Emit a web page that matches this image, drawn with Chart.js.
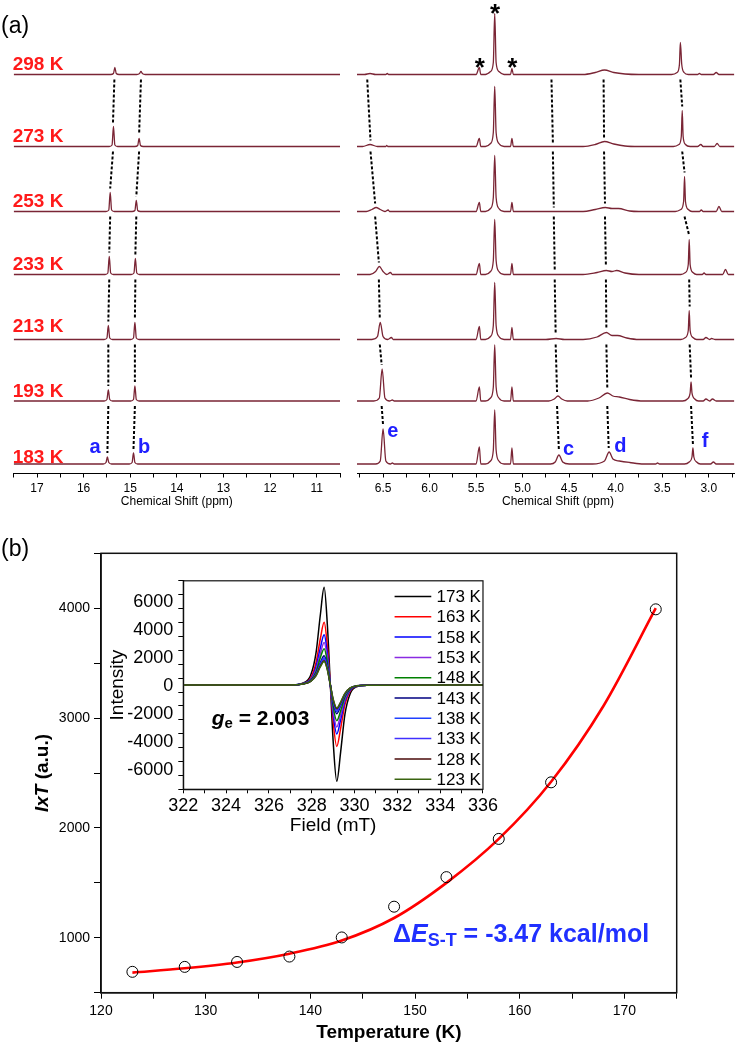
<!DOCTYPE html>
<html>
<head>
<meta charset="utf-8">
<script src="https://cdn.jsdelivr.net/npm/chart.js@4.4.0/dist/chart.umd.min.js"></script>
<style>
body { margin: 0; background: #fff; width: 736px; height: 1046px; position: relative; overflow: hidden; }
canvas { position: absolute; }
</style>
</head>
<body>
<canvas id="nmrL" width="350" height="520" style="left:0;top:0"></canvas>
<canvas id="nmrR" width="396" height="520" style="left:340px;top:0"></canvas>
<canvas id="main" width="736" height="516" style="left:0;top:530px"></canvas>
<canvas id="inset" width="400" height="275" style="left:100px;top:565px"></canvas>
<script>
// ---- panel (a): 1H NMR, stacked by temperature ----
var nmrTemps = ['298 K', '273 K', '253 K', '233 K', '213 K', '193 K', '183 K'];
var offsets = [399, 327, 262, 199, 134, 72.5, 9.5];

// [ppm, intensity] for 17.5 - 10.5 ppm
var nmrLeft = [
  [[17.5,0],[15.42,0],[15.36,1],[15.33,7],[15.30,1],[15.24,0],[14.86,0],[14.80,1],[14.77,3],[14.74,1],[14.68,0],[10.5,0]],
  [[17.5,0],[15.45,0],[15.39,1.5],[15.36,20],[15.33,1.5],[15.27,0],[14.90,0],[14.84,1],[14.81,8],[14.78,1],[14.72,0],[10.5,0]],
  [[17.5,0],[15.52,0],[15.46,1.5],[15.43,19],[15.40,1.5],[15.34,0],[14.96,0],[14.90,1],[14.87,11],[14.84,1],[14.78,0],[10.5,0]],
  [[17.5,0],[15.54,0],[15.48,1.5],[15.45,18],[15.42,1.5],[15.36,0],[14.98,0],[14.92,1.5],[14.89,16],[14.86,1.5],[14.80,0],[10.5,0]],
  [[17.5,0],[15.56,0],[15.50,1.5],[15.47,14],[15.44,1.5],[15.38,0],[14.99,0],[14.93,1.5],[14.90,17],[14.87,1.5],[14.81,0],[10.5,0]],
  [[17.5,0],[15.56,0],[15.50,1.5],[15.47,11],[15.44,1.5],[15.38,0],[14.99,0],[14.93,1.5],[14.90,15],[14.87,1.5],[14.81,0],[10.5,0]],
  [[17.5,0],[15.58,0],[15.52,1.5],[15.49,7],[15.46,1.5],[15.40,0],[15.02,0],[14.96,1.5],[14.93,11],[14.90,1.5],[14.84,0],[10.5,0]]
];

// [ppm, intensity] for 6.78 - 2.73 ppm
var nmrRight = [
  [[6.78,0],[6.70,0],[6.64,1],[6.58,0],[6.47,0],[6.455,1],[6.44,0],
   [5.50,0],[5.465,7],[5.45,0],[5.40,0],[5.345,3],[5.315,12],[5.30,61],[5.285,12],[5.255,3],[5.20,0],
   [5.13,0],[5.115,6],[5.10,0],[4.35,0],[4.22,2],[4.12,4.5],[4.02,2],[3.90,0.5],[3.75,0],
   [3.40,0],[3.34,2],[3.315,10],[3.305,32],[3.29,10],[3.265,2],[3.22,0],
   [3.12,0],[3.10,1],[3.08,0],[2.95,0],[2.92,2],[2.89,0],[2.72,0]],
  [[6.78,0],[6.72,0],[6.64,2],[6.56,0],[6.47,0],[6.46,1],[6.45,0],
   [5.50,0],[5.465,8],[5.45,0],[5.40,0],[5.345,3],[5.315,14],[5.30,60],[5.285,14],[5.255,3],[5.20,0],
   [5.13,0],[5.115,8],[5.10,0],[4.35,0],[4.22,2],[4.12,5],[4.02,2.5],[3.90,0.5],[3.75,0],
   [3.38,0],[3.32,2],[3.295,10],[3.285,36],[3.275,10],[3.25,2],[3.20,0],
   [3.12,0],[3.085,2],[3.06,0],[2.94,0],[2.91,3],[2.88,0],[2.72,0]],
  [[6.78,0],[6.68,0],[6.62,2],[6.575,4],[6.53,2],[6.48,0],[6.445,1.5],[6.43,0],
   [5.50,0],[5.465,9],[5.45,0],[5.40,0],[5.345,3],[5.315,14],[5.30,56],[5.285,14],[5.255,3],[5.20,0],
   [5.13,0],[5.115,9],[5.10,0],[4.35,0],[4.22,2],[4.11,4],[4.04,3],[3.97,3],[3.85,0.5],[3.75,0],
   [3.36,0],[3.30,2],[3.27,10],[3.26,35],[3.25,10],[3.22,2],[3.18,0],
   [3.10,0],[3.08,1.5],[3.06,0],[2.92,0],[2.89,5],[2.86,0],[2.72,0]],
  [[6.78,0],[6.64,0],[6.58,3],[6.54,8],[6.50,3],[6.46,0],[6.42,2],[6.40,0],
   [5.50,0],[5.465,11],[5.45,0],[5.40,0],[5.345,3],[5.315,14],[5.30,55],[5.285,14],[5.255,3],[5.20,0],
   [5.13,0],[5.115,11],[5.10,0],[4.35,0],[4.20,2],[4.10,4],[4.04,3],[3.99,4],[3.90,1.5],[3.75,0],
   [3.30,0],[3.25,2],[3.22,10],[3.21,35],[3.20,10],[3.17,2],[3.13,0],
   [3.07,0],[3.05,1.5],[3.03,0],[2.85,0],[2.82,5],[2.79,0],[2.72,0]],
  [[6.78,0],[6.62,0],[6.56,3],[6.53,17],[6.50,3],[6.45,0],[6.41,2],[6.39,0],
   [5.50,0],[5.465,13],[5.45,0],[5.40,0],[5.345,3],[5.315,14],[5.30,57],[5.285,14],[5.255,3],[5.20,0],
   [5.13,0],[5.115,12],[5.10,0],[4.75,0],[4.64,1],[4.55,0],
   [4.35,0],[4.20,2.5],[4.10,7],[4.04,4],[3.98,4],[3.88,1.5],[3.75,0],
   [3.30,0],[3.25,2],[3.22,9],[3.21,29],[3.20,9],[3.17,2],[3.13,0],
   [3.06,0],[3.03,2],[2.99,0],[2.97,1],[2.93,0],[2.72,0]],
  [[6.78,0],[6.60,0],[6.54,3],[6.51,32],[6.48,3],[6.43,0],[6.40,1],[6.38,0],
   [5.50,0],[5.465,14],[5.45,0],[5.40,0],[5.345,3],[5.315,14],[5.30,56],[5.285,14],[5.255,3],[5.20,0],
   [5.13,0],[5.115,14],[5.10,0],[4.72,0],[4.66,2],[4.62,5],[4.58,2],[4.52,0],
   [4.30,0],[4.18,3],[4.09,8],[4.03,5],[3.96,4],[3.85,1.5],[3.70,0],
   [3.28,0],[3.23,2],[3.20,8],[3.19,19],[3.18,8],[3.15,2],[3.11,0],
   [3.06,0],[3.03,2],[2.99,0],[2.96,2],[2.92,0],[2.72,0]],
  [[6.78,0],[6.58,0],[6.53,3],[6.50,35],[6.47,3],[6.42,0],[6.40,1],[6.38,0],
   [5.50,0],[5.465,17],[5.45,0],[5.40,0],[5.345,3],[5.315,14],[5.30,54],[5.285,14],[5.255,3],[5.20,0],
   [5.13,0],[5.115,16],[5.10,0],[4.70,0],[4.65,2],[4.61,9],[4.57,2],[4.50,0],
   [4.25,0],[4.12,3],[4.07,12],[4.03,5],[3.96,3],[3.85,1.5],[3.70,0],
   [3.57,0],[3.55,1],[3.53,0],
   [3.26,0],[3.21,2],[3.18,7],[3.17,16],[3.16,7],[3.13,2],[3.09,0],
   [2.98,0],[2.95,2],[2.92,0],[2.72,0]]
];

// peak tracks (position, height per temperature) for the dashed guides
var trackA = [15.34, 15.37, 15.43, 15.45, 15.47, 15.47, 15.49];
var hA = [7, 20, 19, 18, 14, 11, 7];
var trackB = [14.77, 14.81, 14.87, 14.89, 14.90, 14.90, 14.93];
var hB = [3, 8, 11, 16, 17, 15, 11];
var trackE = [6.67, 6.635, 6.585, 6.545, 6.535, 6.515, 6.50];
var hE = [0, 2, 4, 8, 17, 32, 35];
var trackC = [4.69, 4.675, 4.665, 4.655, 4.645, 4.63, 4.61];
var hC = [0, 0, 0, 0, 1, 5, 9];
var trackD = [4.13, 4.125, 4.115, 4.105, 4.10, 4.09, 4.075];
var hD = [4.5, 5, 4, 4, 7, 8, 12];
var trackF = [3.305, 3.285, 3.26, 3.21, 3.205, 3.19, 3.17];
var hF = [32, 36, 35, 35, 29, 19, 16];

// ---- panel (b): IxT vs T ----
var tempK = [123, 128, 133, 138, 143, 148, 153, 158, 163, 173];
var ixt = [690, 735, 780, 829, 1003, 1283, 1552, 1900, 2415, 3990];
var fitT = [123, 128, 133, 138, 143, 148, 153, 158, 163, 168, 173];
var fitV = [683, 722, 775, 855, 975, 1180, 1500, 1900, 2420, 3110, 4000];

// ---- inset: EPR spectra ----
var eprTemps = ['173 K','163 K','158 K','153 K','148 K','143 K','138 K','133 K','128 K','123 K'];
var eprColors = ['#000000','#ff0000','#0000ff','#8a2be2','#008000','#000080','#2040ff','#4030ff','#4a0a0a','#3a6410'];
var eprField = [322, 327.0, 327.6, 327.95, 328.2, 328.4, 328.58, 328.73, 328.87, 329.0, 329.17, 329.35, 329.55, 329.8, 330.1, 330.6, 336];
var epr173 = [0, 0, 150, 700, 2300, 5000, 7000, 4300, 0, -4000, -6900, -4800, -2100, -600, -120, -20, 0];
var epr163 = [0, 0, 120, 500, 1600, 3300, 4500, 2800, 0, -2600, -4400, -3100, -1400, -420, -90, -15, 0];
var epr158 = [0, 0, 110, 420, 1300, 2650, 3600, 2250, 0, -2100, -3500, -2500, -1150, -350, -80, -15, 0];
var epr153 = [0, 0, 100, 380, 1100, 2250, 3050, 1900, 0, -1800, -3000, -2150, -1000, -310, -70, -10, 0];
var epr148 = [0, 0, 100, 350, 950, 1950, 2600, 1650, 0, -1550, -2550, -1850, -880, -280, -70, -10, 0];
var epr143 = [0, 0, 90, 300, 800, 1600, 2100, 1350, 0, -1250, -2050, -1500, -720, -240, -60, -10, 0];
var epr138 = [0, 0, 90, 290, 760, 1500, 1950, 1250, 0, -1150, -1900, -1400, -680, -230, -60, -10, 0];
var epr133 = [0, 0, 85, 280, 720, 1420, 1850, 1200, 0, -1100, -1800, -1330, -650, -220, -55, -10, 0];
var epr128 = [0, 0, 80, 270, 690, 1350, 1750, 1130, 0, -1050, -1700, -1260, -620, -210, -55, -10, 0];
var epr123 = [0, 0, 80, 260, 660, 1300, 1680, 1080, 0, -1000, -1650, -1220, -600, -200, -50, -10, 0];
var eprSeries = [epr173, epr163, epr158, epr153, epr148, epr143, epr138, epr133, epr128, epr123];
var eprYLabels = [6000, 4000, 2000, 0, -2000, -4000, -6000];

var FONT = '"Liberation Sans", Arial, Helvetica, sans-serif';
Chart.defaults.font.family = FONT;
Chart.defaults.color = '#000';

var TRACE = '#7a2535';

function traceSets(traces) {
  return traces.map(function (tr, i) {
    return {
      data: tr.map(function (p) { return { x: p[0], y: p[1] + offsets[i] }; }),
      showLine: true, borderColor: TRACE, borderWidth: 1.3, pointRadius: 0,
      cubicInterpolationMode: 'monotone', fill: false
    };
  });
}

function dashSet(pos, h) {
  var pts = [];
  for (var i = 0; i < pos.length - 1; i++) {
    pts.push({ x: pos[i], y: offsets[i] - 5 });
    pts.push({ x: pos[i + 1], y: offsets[i + 1] + h[i + 1] + 4 });
    pts.push({ x: pos[i + 1], y: null });
  }
  return { data: pts, showLine: true, spanGaps: false, borderColor: '#000', borderWidth: 2,
           borderDash: [3, 2], pointRadius: 0 };
}

function drawRich(ctx, parts, x, y, align) {
  var w = 0;
  parts.forEach(function (p) { ctx.font = p.f; w += ctx.measureText(p.t).width; });
  var cx = align === 'center' ? x - w / 2 : x;
  parts.forEach(function (p) {
    ctx.font = p.f;
    ctx.fillText(p.t, cx, y + (p.dy || 0));
    cx += ctx.measureText(p.t).width;
  });
}

function nmrOptions(min, max, step, fmt, padL, padR) {
  return {
    responsive: false, animation: false,
    layout: { padding: { left: padL, right: padR, top: 0, bottom: 0 } },
    plugins: { legend: { display: false }, tooltip: { enabled: false } },
    scales: {
      x: {
        type: 'linear', reverse: true, min: min, max: max,
        ticks: { stepSize: step, includeBounds: false, autoSkip: false, maxRotation: 0, padding: 4,
                 font: { size: 12 }, color: '#000', callback: fmt },
        grid: { drawOnChartArea: false, drawTicks: true, tickLength: 4, tickColor: '#000', tickWidth: 1 },
        border: { display: true, color: '#000', width: 1 },
        afterFit: function (s) { s.height = 46.5; }
      },
      y: { display: false, min: 0, max: 473.5 }
    }
  };
}

// left NMR panel
new Chart(document.getElementById('nmrL'), {
  type: 'scatter',
  data: { datasets: traceSets(nmrLeft).concat([dashSet(trackA, hA), dashSet(trackB, hB)]) },
  options: nmrOptions(10.5, 17.5, 0.5, function (v) { return Number.isInteger(v) ? String(v) : ''; }, 13.7, 10),
  plugins: [{
    id: 'labelsL',
    afterDraw: function (c) {
      var ctx = c.ctx, xs = c.scales.x, ys = c.scales.y, ca = c.chartArea;
      var gap = [4.5, 4.5, 4.5, 4.5, 8, 4.5, 1.5];
      ctx.save();
      ctx.textBaseline = 'alphabetic';
      ctx.fillStyle = '#000';
      ctx.font = '23px ' + FONT;
      ctx.fillText('(a)', 1, 33);
      ctx.fillStyle = '#ff1a1a';
      ctx.font = 'bold 19px ' + FONT;
      nmrTemps.forEach(function (t, i) {
        ctx.fillText(t, ca.left - 1, ys.getPixelForValue(offsets[i]) - gap[i]);
      });
      ctx.fillStyle = '#2020ff';
      ctx.font = 'bold 20px ' + FONT;
      ctx.textAlign = 'center';
      ctx.fillText('a', xs.getPixelForValue(15.755), 453.3);
      ctx.fillText('b', xs.getPixelForValue(14.70), 453.3);
      ctx.fillStyle = '#000';
      ctx.font = '12px ' + FONT;
      ctx.textBaseline = 'middle';
      ctx.fillText('Chemical Shift (ppm)', (ca.left + ca.right) / 2, 501.5);
      ctx.restore();
    }
  }]
});

// right NMR panel
new Chart(document.getElementById('nmrR'), {
  type: 'scatter',
  data: { datasets: traceSets(nmrRight).concat([dashSet(trackE, hE), dashSet(trackC, hC), dashSet(trackD, hD), dashSet(trackF, hF)]) },
  options: nmrOptions(2.727, 6.78, 0.25, function (v) {
    return Math.abs(v * 2 - Math.round(v * 2)) < 1e-6 ? v.toFixed(1) : '';
  }, 17, 0),
  plugins: [{
    id: 'labelsR',
    afterDraw: function (c) {
      var ctx = c.ctx, xs = c.scales.x;
      ctx.save();
      ctx.textAlign = 'center';
      ctx.textBaseline = 'alphabetic';
      ctx.fillStyle = '#000';
      ctx.font = 'bold 26px ' + FONT;
      ctx.fillText('*', xs.getPixelForValue(5.46), 75.5);
      ctx.fillText('*', xs.getPixelForValue(5.11), 75.5);
      ctx.fillText('*', xs.getPixelForValue(5.295), 21.5);
      ctx.fillStyle = '#2020ff';
      ctx.font = 'bold 20px ' + FONT;
      ctx.fillText('e', xs.getPixelForValue(6.395), 436.7);
      ctx.fillText('c', xs.getPixelForValue(4.507), 455);
      ctx.fillText('d', xs.getPixelForValue(3.95), 452.3);
      ctx.fillText('f', xs.getPixelForValue(3.04), 447.3);
      ctx.fillStyle = '#000';
      ctx.font = '12px ' + FONT;
      ctx.textBaseline = 'middle';
      ctx.fillText('Chemical Shift (ppm)', xs.getPixelForValue(4.62), 501.5);
      ctx.restore();
    }
  }]
});

// main IxT plot
new Chart(document.getElementById('main'), {
  type: 'scatter',
  data: {
    datasets: [
      { data: tempK.map(function (t, i) { return { x: t, y: ixt[i] }; }), showLine: false,
        pointRadius: 5.5, pointBorderColor: '#000', pointBackgroundColor: 'rgba(0,0,0,0)', pointBorderWidth: 1 },
      { data: fitT.map(function (t, i) { return { x: t, y: fitV[i] }; }), showLine: true,
        borderColor: '#ff0000', borderWidth: 2.6, pointRadius: 0, cubicInterpolationMode: 'monotone' }
    ]
  },
  options: {
    responsive: false, animation: false,
    layout: { padding: { left: 0, right: 59.3, top: 23.3, bottom: 0 } },
    plugins: { legend: { display: false }, tooltip: { enabled: false } },
    scales: {
      x: {
        type: 'linear', min: 120, max: 175,
        ticks: { stepSize: 5, autoSkip: false, maxRotation: 0, padding: 4, font: { size: 14 }, color: '#000',
                 callback: function (v) { return v % 10 === 0 ? String(v) : ''; } },
        grid: { drawOnChartArea: false, tickLength: 6, tickColor: '#000' },
        border: { color: '#000', width: 1.5 },
        afterFit: function (s) { s.height = 53.3; }
      },
      y: {
        min: 500, max: 4500,
        ticks: { stepSize: 500, autoSkip: false, padding: 4, font: { size: 14 }, color: '#000',
                 callback: function (v) { return v % 1000 === 0 ? String(v) : ''; } },
        grid: { drawOnChartArea: false, tickLength: 7, tickColor: '#000' },
        border: { color: '#000', width: 1.5 },
        afterFit: function (s) { s.width = 101; }
      }
    }
  },
  plugins: [{
    id: 'decorMain',
    afterDraw: function (c) {
      var ctx = c.ctx, ca = c.chartArea;
      ctx.save();
      ctx.strokeStyle = '#111';
      ctx.lineWidth = 1.5;
      ctx.strokeRect(ca.left, ca.top, ca.right - ca.left, ca.bottom - ca.top);
      ctx.fillStyle = '#000';
      ctx.textBaseline = 'alphabetic';
      ctx.font = '23px ' + FONT;
      ctx.fillText('(b)', 1, 25.5);
      ctx.textBaseline = 'middle';
      ctx.textAlign = 'left';
      drawRich(ctx, [{ t: 'Temperature (K)', f: 'bold 19px ' + FONT }], (ca.left + ca.right) / 2, 503, 'center');
      ctx.save();
      ctx.translate(43, (ca.top + ca.bottom) / 2);
      ctx.rotate(-Math.PI / 2);
      drawRich(ctx, [{ t: 'IxT', f: 'italic bold 19px ' + FONT }, { t: ' (a.u.)', f: 'bold 19px ' + FONT }], 0, 0, 'center');
      ctx.restore();
      ctx.fillStyle = '#2030ff';
      drawRich(ctx, [
        { t: '\u0394', f: 'bold 25px ' + FONT },
        { t: 'E', f: 'italic bold 25px ' + FONT },
        { t: 'S-T', f: 'bold 18px ' + FONT, dy: 6 },
        { t: ' = -3.47 kcal/mol', f: 'bold 25px ' + FONT }
      ], 393, 405, 'left');
      ctx.restore();
    }
  }]
});

// inset EPR
new Chart(document.getElementById('inset'), {
  type: 'scatter',
  data: {
    datasets: eprSeries.map(function (s, i) {
      return { data: s.map(function (v, j) { return { x: eprField[j], y: v }; }), showLine: true,
               borderColor: eprColors[i], borderWidth: 1.5, pointRadius: 0, cubicInterpolationMode: 'monotone',
               order: 10 - i };
    })
  },
  options: {
    responsive: false, animation: false,
    layout: { padding: { left: 0, right: 13.3, top: 10, bottom: 0 } },
    plugins: { legend: { display: false }, tooltip: { enabled: false } },
    scales: {
      x: {
        type: 'linear', min: 322, max: 336,
        ticks: { stepSize: 1, autoSkip: false, maxRotation: 0, padding: 2, font: { size: 18 }, color: '#000',
                 callback: function (v) { return v % 2 === 0 ? String(v) : ''; } },
        grid: { drawOnChartArea: false, tickLength: 4, tickColor: '#000' },
        border: { color: '#000', width: 1.2 },
        afterFit: function (s) { s.height = 50.7; }
      },
      y: {
        min: -7470, max: 7470,
        ticks: { stepSize: 1000, includeBounds: false, autoSkip: false, padding: 5, font: { size: 18 }, color: '#000',
                 callback: function () { return ''; } },
        grid: { drawOnChartArea: false, tickLength: 5, tickColor: '#000' },
        border: { color: '#000', width: 1.2 },
        afterFit: function (s) { s.width = 83.3; }
      }
    }
  },
  plugins: [{
    id: 'decorInset',
    afterDraw: function (c) {
      var ctx = c.ctx, ca = c.chartArea, xs = c.scales.x, ys = c.scales.y;
      ctx.save();
      ctx.strokeStyle = '#111';
      ctx.lineWidth = 1.2;
      ctx.strokeRect(ca.left, ca.top, ca.right - ca.left, ca.bottom - ca.top);
      ctx.fillStyle = '#000';
      ctx.font = '18px ' + FONT;
      ctx.textAlign = 'right';
      ctx.textBaseline = 'middle';
      eprYLabels.forEach(function (v) {
        ctx.fillText(String(v), ca.left - 10, ys.getPixelForValue(v) + 1);
      });
      ctx.textAlign = 'left';
      ctx.font = '17px ' + FONT;
      eprTemps.forEach(function (t, i) {
        var y = ca.top + 15.7 + i * 20.3;
        ctx.strokeStyle = eprColors[i];
        ctx.lineWidth = 1.5;
        ctx.beginPath();
        ctx.moveTo(ca.right - 88.4, y);
        ctx.lineTo(ca.right - 51.7, y);
        ctx.stroke();
        ctx.fillText(t, ca.right - 46.5, y + 1);
      });
      drawRich(ctx, [{ t: 'Field (mT)', f: '19px ' + FONT }], (ca.left + ca.right) / 2, 261, 'center');
      drawRich(ctx, [
        { t: 'g', f: 'italic bold 21px ' + FONT },
        { t: 'e', f: 'bold 15px ' + FONT, dy: 5 },
        { t: ' = 2.003', f: 'bold 21px ' + FONT }
      ], xs.getPixelForValue(322) + 28.4, ys.getPixelForValue(-2450), 'left');
      ctx.translate(17.5, (ca.top + ca.bottom) / 2);
      ctx.rotate(-Math.PI / 2);
      drawRich(ctx, [{ t: 'Intensity', f: '19px ' + FONT }], 0, 0, 'center');
      ctx.restore();
    }
  }]
});
</script>
</body>
</html>
